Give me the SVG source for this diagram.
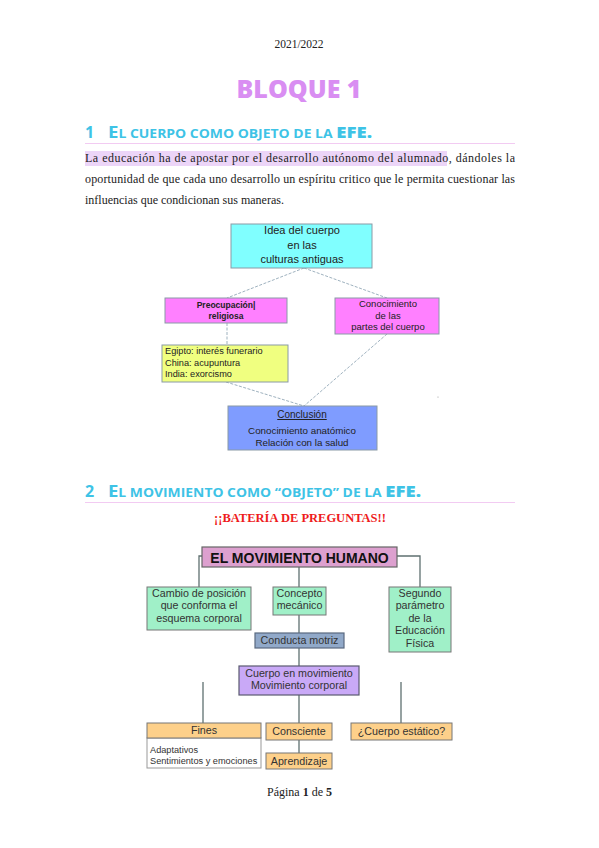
<svg xmlns="http://www.w3.org/2000/svg" width="599" height="848" viewBox="0 0 599 848">
<style>
.serif{font-family:"Liberation Serif","Times New Roman",serif;fill:#222}
.head{font-family:"Open Sans","Liberation Sans",sans-serif;fill:#3ec3e6;font-weight:bold}
.d1{font-family:"Liberation Sans",Arial,sans-serif;fill:#222}
.d2{font-family:"Liberation Sans",Arial,sans-serif;fill:#333}
.c1{stroke:#9fb2bf;stroke-width:1;stroke-dasharray:3 1.5;fill:none}
.c2{stroke:#5f7070;stroke-width:1.3;fill:none}
.b1{stroke:#8a9aa6;stroke-width:1}
.b2{stroke:#777;stroke-width:1}
</style>
<rect width="599" height="848" fill="#fff"/>
<text x="299" y="48" class="serif" font-size="11.5" text-anchor="middle">2021/2022</text>
<text x="299" y="98" font-family="'Open Sans','Liberation Sans',sans-serif" font-weight="800" font-size="25" fill="#d98ef2" text-anchor="middle">BLOQUE 1</text>

<text x="85" y="138" class="head" font-size="16">1</text>
<text x="108" y="138" class="head" textLength="264" lengthAdjust="spacingAndGlyphs"><tspan font-size="16">E</tspan><tspan font-size="12">L CUERPO COMO OBJETO DE LA </tspan><tspan font-size="16" font-weight="900">EFE.</tspan></text>
<line x1="85" y1="143.5" x2="515" y2="143.5" stroke="#f2cbf2" stroke-width="1.2"/>

<rect x="85" y="151" width="362" height="15" fill="#ecd5f8"/>
<text x="85" y="162" class="serif" font-size="12" textLength="430" lengthAdjust="spacing">La educación ha de apostar por el desarrollo autónomo del alumnado, dándoles la</text>
<text x="85" y="183" class="serif" font-size="12" textLength="430" lengthAdjust="spacing">oportunidad de que cada uno desarrollo un espíritu critico que le permita cuestionar las</text>
<text x="85" y="204" class="serif" font-size="12">influencias que condicionan sus maneras.</text>

<g id="connectors1">
<path class="c1" d="M304 268 L227 298"/>
<path class="c1" d="M304 268 L387 298"/>
<path class="c1" d="M227 323 L227 345"/>
<path class="c1" d="M226 382 L304 406"/>
<path class="c1" d="M387 334 L304 406"/>
</g>
<g id="n-idea">
<rect x="231" y="224" width="141" height="44" fill="#80ffff" class="b1"/>
<text class="d1" style="font-size:11px" text-anchor="middle"><tspan x="302" y="234">Idea del cuerpo</tspan><tspan x="302" y="249">en las</tspan><tspan x="302" y="263">culturas antiguas</tspan></text>
</g>
<g id="n-preocupacion">
<rect x="165" y="298" width="122" height="25" fill="#ff80ff" class="b1"/>
<text class="d1" style="font-size:8.5px" font-weight="bold" text-anchor="middle"><tspan x="226" y="308">Preocupación|</tspan><tspan x="226" y="319">religiosa</tspan></text>
</g>
<g id="n-conocimiento">
<rect x="335" y="298" width="104" height="36" fill="#ff80ff" class="b1"/>
<text class="d1" style="font-size:9.5px" text-anchor="middle"><tspan x="388" y="307">Conocimiento</tspan><tspan x="388" y="319">de las</tspan><tspan x="388" y="330">partes del cuerpo</tspan></text>
</g>
<g id="n-culturas">
<rect x="162" y="345" width="126" height="37" fill="#f0ff80" class="b1"/>
<text class="d1" style="font-size:9.2px"><tspan x="165" y="354">Egipto: interés funerario</tspan><tspan x="165" y="365.5">China: acupuntura</tspan><tspan x="165" y="377">India: exorcismo</tspan></text>
</g>
<g id="n-conclusion">
<rect x="228" y="406" width="149" height="44" fill="#7f9cff" class="b1"/>
<text class="d1" style="font-size:10px" text-anchor="middle" text-decoration="underline" x="302" y="418">Conclusión</text>
<text class="d1" style="font-size:9.8px" text-anchor="middle"><tspan x="302" y="434">Conocimiento anatómico</tspan><tspan x="302" y="446">Relación con la salud</tspan></text>
</g>
<circle cx="438" cy="397" r="0.6" fill="#999"/>

<text x="85" y="497" class="head" font-size="16">2</text>
<text x="108" y="497" class="head" textLength="313" lengthAdjust="spacingAndGlyphs"><tspan font-size="16">E</tspan><tspan font-size="12">L MOVIMIENTO COMO “OBJETO” DE LA </tspan><tspan font-size="16" font-weight="900">EFE.</tspan></text>
<line x1="85" y1="502.5" x2="515" y2="502.5" stroke="#f2cbf2" stroke-width="1.2"/>
<text x="300" y="522" class="serif" font-size="12.5" font-weight="bold" style="fill:#ee1c1c" text-anchor="middle">¡¡BATERÍA DE PREGUNTAS!!</text>

<g id="connectors2">
<path class="c2" d="M202 556 H199 V587"/>
<path class="c2" d="M397 556 H420 V587"/>
<path class="c2" d="M299 567 V587"/>
<path class="c2" d="M299 615 V633"/>
<path class="c2" d="M299 648 V666"/>
<path class="c2" d="M299 695 V723"/>
<path class="c2" d="M299 740 V753"/>
<path class="c2" d="M203 682 V723"/>
<path class="c2" d="M401 682 V723"/>
</g>
<g id="n-movimiento">
<rect x="202" y="547" width="195" height="20" fill="#dda0cf" stroke="#666" stroke-width="1.2"/>
<text x="299.5" y="562.5" class="d2" font-weight="bold" style="fill:#111;font-size:14px" text-anchor="middle">EL MOVIMIENTO HUMANO</text>
</g>
<g id="n-cambio">
<rect x="147" y="587" width="104" height="43" fill="#a0f0c8" class="b2"/>
<text class="d2" style="font-size:10.7px" text-anchor="middle"><tspan x="199" y="597">Cambio de posición</tspan><tspan x="199" y="609">que conforma el</tspan><tspan x="199" y="622">esquema corporal</tspan></text>
</g>
<g id="n-concepto">
<rect x="273" y="587" width="53" height="28" fill="#a0f0c8" class="b2"/>
<text class="d2" style="font-size:10.7px" text-anchor="middle"><tspan x="299.5" y="597">Concepto</tspan><tspan x="299.5" y="609">mecánico</tspan></text>
</g>
<g id="n-segundo">
<rect x="389" y="587" width="62" height="65" fill="#a0f0c8" class="b2"/>
<text class="d2" style="font-size:10.7px" text-anchor="middle"><tspan x="420" y="597">Segundo</tspan><tspan x="420" y="609">parámetro</tspan><tspan x="420" y="622">de la</tspan><tspan x="420" y="634">Educación</tspan><tspan x="420" y="647">Física</tspan></text>
</g>
<g id="n-conducta">
<rect x="255" y="633" width="89" height="15" fill="#91a9c9" stroke="#5a6a80" stroke-width="1.2"/>
<text x="299.5" y="644" class="d2" style="font-size:10.7px" text-anchor="middle">Conducta motriz</text>
</g>
<g id="n-cuerpo">
<rect x="239" y="666" width="120" height="29" fill="#c9a9f7" stroke="#5a5a70" stroke-width="1.2"/>
<text class="d2" style="font-size:10.7px" text-anchor="middle"><tspan x="299" y="677">Cuerpo en movimiento</tspan><tspan x="299" y="689">Movimiento corporal</tspan></text>
</g>
<g id="n-fines">
<rect x="147" y="738" width="114" height="30" fill="#fff" stroke="#999" stroke-width="1"/>
<rect x="147" y="723" width="114" height="15" fill="#fdd08a" class="b2"/>
<text x="204" y="734" class="d2" style="font-size:10.7px" text-anchor="middle">Fines</text>
<text class="d2" style="font-size:9.2px"><tspan x="150" y="753">Adaptativos</tspan><tspan x="150" y="764">Sentimientos y emociones</tspan></text>
</g>
<g id="n-consciente">
<rect x="266" y="723" width="66" height="17" fill="#fdd08a" class="b2"/>
<text x="299" y="735" class="d2" style="font-size:10.7px" text-anchor="middle">Consciente</text>
</g>
<g id="n-aprendizaje">
<rect x="266" y="753" width="66" height="16" fill="#fdd08a" class="b2"/>
<text x="299" y="765" class="d2" style="font-size:10.7px" text-anchor="middle">Aprendizaje</text>
</g>
<g id="n-estatico">
<rect x="351" y="723" width="101" height="17" fill="#fdd08a" class="b2"/>
<text x="401.5" y="735" class="d2" style="font-size:10.7px" text-anchor="middle">¿Cuerpo estático?</text>
</g>

<text x="299.5" y="796" class="serif" font-size="12" text-anchor="middle">Página <tspan font-weight="bold">1</tspan> de <tspan font-weight="bold">5</tspan></text>
</svg>
